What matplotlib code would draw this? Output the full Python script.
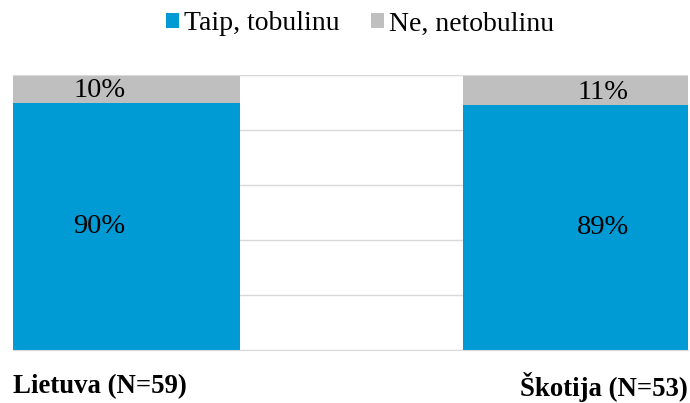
import matplotlib
matplotlib.use("Agg")
import matplotlib.pyplot as plt
from matplotlib.patches import Patch

categories = ["Lietuva (N=59)", "Škotija (N=53)"]
series_names = ["Taip, tobulinu", "Ne, netobulinu"]
yes_vals = [90, 89]
no_vals = [10, 11]
colors = ["#009ad4", "#bfbfbf"]

plt.rcParams['font.family'] = ['Liberation Serif', 'DejaVu Serif']

fig = plt.figure(figsize=(6.9, 4.03), dpi=100)
W, H = 690, 403
ax = fig.add_axes([13 / W, 1 - 350 / H, 675 / W, 275 / H])

x = list(range(len(categories)))
width = 0.505
ax.bar(x, yes_vals, width=width, color=colors[0], zorder=3)
ax.bar(x, no_vals, width=width, bottom=yes_vals, color=colors[1], zorder=3)

ax.set_xlim(-width / 2, -width / 2 + 675 / 449.5)
ax.set_ylim(0, 100)
ax.set_yticks([0, 20, 40, 60, 80, 100])
ax.yaxis.grid(True, color="#d9d9d9", linewidth=1, zorder=0)
ax.axhline(100, color="#d9d9d9", linewidth=1.5, zorder=5)
ax.tick_params(left=False, bottom=False, labelleft=False, labelbottom=False)
for s in ["left", "right", "top"]:
    ax.spines[s].set_visible(False)
ax.spines["bottom"].set_color("#d9d9d9")
ax.spines["bottom"].set_zorder(5)

offsets = [-0.06, 0.06]
for i in x:
    xc = i + offsets[i]
    ax.text(xc, yes_vals[i] / 2, f"{yes_vals[i]}%", ha="center", va="center",
            fontsize=20.5, zorder=6)
    ax.text(xc, yes_vals[i] + no_vals[i] / 2 - 0.8, f"{no_vals[i]}%", ha="center",
            va="center", fontsize=20.5, zorder=6)

fig.text(13 / W, 1 - 387 / H, categories[0], ha="left", va="center",
         fontsize=19.3, fontweight="bold")
fig.text(688 / W, 1 - 387 / H, categories[1], ha="right", va="center",
         fontsize=19.3, fontweight="bold")

handles = [Patch(facecolor=c, edgecolor="none") for c in colors]
fig.legend(handles, series_names, loc="center", bbox_to_anchor=(360 / W, 1 - 24 / H),
           ncol=2, frameon=False, fontsize=20, handlelength=0.47, handleheight=0.47,
           handletextpad=0.18, columnspacing=1.15, borderpad=0, borderaxespad=0)

fig.savefig("out.png", dpi=100)
